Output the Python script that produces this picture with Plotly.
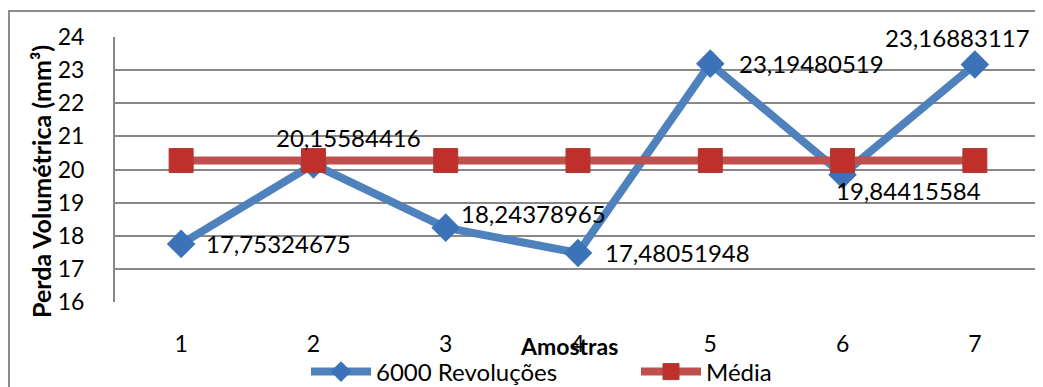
import plotly.graph_objects as go

amostras = [1, 2, 3, 4, 5, 6, 7]
revolucoes = [17.75324675, 20.15584416, 18.24378965, 17.48051948, 23.19480519, 19.84415584, 23.16883117]
media = [20.27] * 7
labels = ["17,75324675", "20,15584416", "18,24378965", "17,48051948", "23,19480519", "19,84415584", "23,16883117"]
label_dx = [23, -39, 13, 25, 27, -9, -92]
label_dy = [0, 27, 14, 0, 0, -16, 27]

# the page body has an 8px margin, so the figure is drawn offset by (8, 8)
OFF = 8
W, H = 1043 - OFF, 387 - OFF
L, R, T, B = 115 - OFF, 2, 37 - OFF, 387 - 302
pw, ph = W - L - R, H - T - B

def px(xs):
    return (xs - OFF - L) / pw

def py(ys):
    return (H - B - (ys - OFF)) / ph

FONT = "Lato"

fig = go.Figure()
fig.add_trace(go.Scatter(
    x=amostras, y=revolucoes, mode="lines+markers", name="6000 Revoluções",
    line=dict(color="#4F81BD", width=8),
    marker=dict(symbol="diamond", size=22, color="#3C72B8", line=dict(width=0)),
))
fig.add_trace(go.Scatter(
    x=amostras, y=media, mode="lines+markers", name="Média",
    line=dict(color="#C0504D", width=8),
    marker=dict(symbol="square", size=24, color="#C0302B", line=dict(width=1, color="#A93A37")),
))

annotations = []
for xv, yv, t, dx, dy in zip(amostras, revolucoes, labels, label_dx, label_dy):
    annotations.append(dict(x=xv, y=yv, text=t, showarrow=False, xanchor="left",
                            yanchor="middle", xshift=dx, yshift=dy,
                            font=dict(family=FONT, size=24, color="#000000")))
annotations.append(dict(x=px(569), y=py(346), xref="paper", yref="paper", text="<b>Amostras</b>",
                        showarrow=False, xanchor="center", yanchor="middle",
                        font=dict(family=FONT, size=23, color="#000000")))
annotations.append(dict(x=px(41), y=py(182), xref="paper", yref="paper",
                        text="<b>Perda Volumétrica (mm³)</b>", textangle=-90,
                        showarrow=False, xanchor="center", yanchor="middle",
                        font=dict(family=FONT, size=25, color="#000000")))

fig.update_layout(
    width=W, height=H,
    margin=dict(l=L, r=R, t=T, b=B, autoexpand=False),
    paper_bgcolor="white", plot_bgcolor="white",
    showlegend=True,
    legend=dict(orientation="h", xref="container", yref="container",
                x=(306 - OFF) / W, y=1 - (372 - OFF) / H, xanchor="left", yanchor="middle",
                font=dict(family=FONT, size=24, color="#000000"), itemwidth=60,
                entrywidth=255, entrywidthmode="pixels", bgcolor="rgba(0,0,0,0)"),
    annotations=annotations,
    shapes=[dict(type="rect", xref="paper", yref="paper", x0=px(9), x1=px(1060),
                 y0=py(400), y1=py(11), line=dict(color="#8C8C8C", width=2), layer="below")],
)
fig.update_xaxes(range=[0.5, 7.5], tickvals=amostras, ticktext=[str(a) for a in amostras],
                 showgrid=False, zeroline=False, showline=False, ticks="", automargin=False,
                 tickfont=dict(family=FONT, size=23, color="#000000"), ticklabelstandoff=26)
fig.update_yaxes(range=[16, 24], dtick=1, showgrid=True, gridcolor="#888888", gridwidth=2,
                 zeroline=False, showline=True, linecolor="#888888", linewidth=2, ticks="",
                 automargin=False,
                 tickfont=dict(family=FONT, size=23, color="#000000"), ticklabelstandoff=24)

fig.write_html("out.html")
